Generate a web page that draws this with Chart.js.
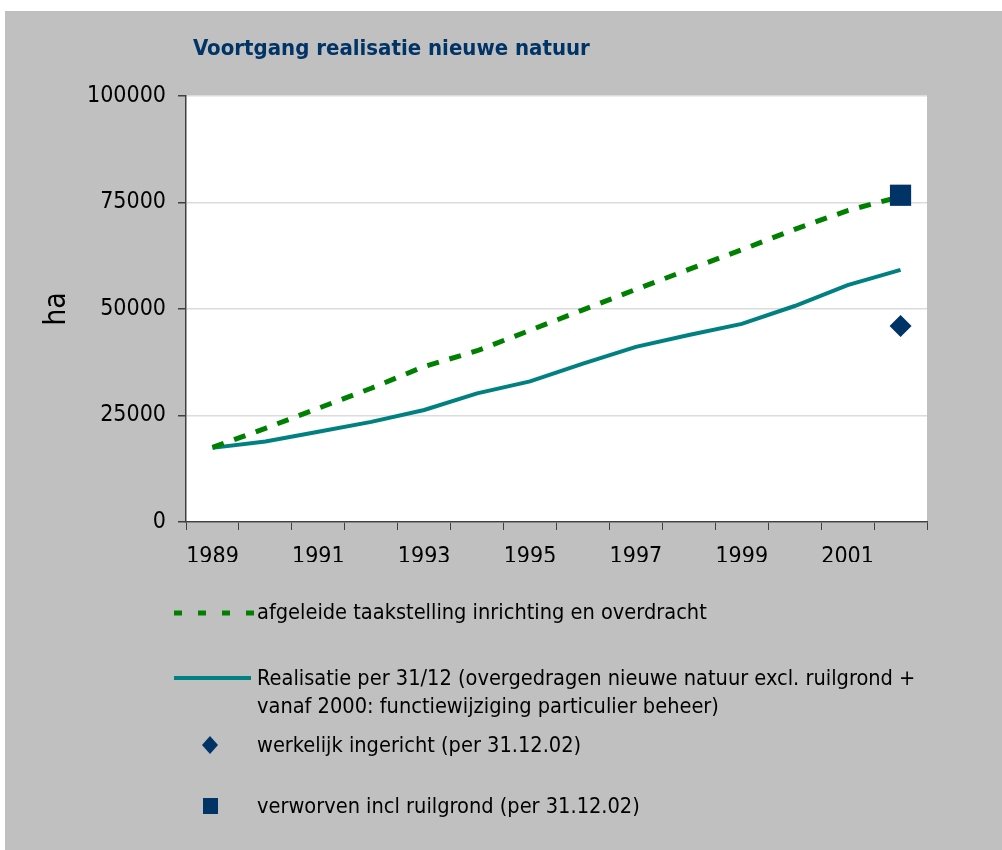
<!DOCTYPE html>
<html>
<head>
<meta charset="utf-8">
<script src="https://cdn.jsdelivr.net/npm/chart.js@4"></script>
<style>
    body { margin: 0; background: #fff; width: 1002px; height: 850px; overflow: hidden; position: relative; }
    #panel { position: absolute; left: 5px; top: 11px; width: 997px; height: 839px; background: #c0c0c0; }
    #myChart { position: absolute; left: 0; top: 0; }
    #titel { position: absolute; left: 188px; top: 24px; font: bold 22px "DejaVu Sans Condensed", "Liberation Sans Narrow", "DejaVu Sans", sans-serif; color: #003366; }
    .leg { position: absolute; left: 252px; font: 21.6px "DejaVu Sans Condensed", "Liberation Sans Narrow", "DejaVu Sans", sans-serif; color: #000; line-height: 28px; }
    .sym { position: absolute; }
</style>
</head>
<body>
<div id="panel">
    <canvas id="myChart" width="997" height="839"></canvas>
    <div id="titel">Voortgang realisatie nieuwe natuur</div>

    <svg class="sym" style="left:165px; top:597px" width="90" height="10">
        <line x1="4" y1="5" x2="88" y2="5" stroke="#008000" stroke-width="5" stroke-dasharray="8 16"/>
    </svg>
    <div class="leg" style="top:587px">afgeleide taakstelling inrichting en overdracht</div>

    <svg class="sym" style="left:165px; top:662px" width="90" height="10">
        <line x1="4" y1="5" x2="81" y2="5" stroke="#008080" stroke-width="4"/>
    </svg>
    <div class="leg" style="top:653px">Realisatie per 31/12 (overgedragen nieuwe natuur excl. ruilgrond +<br>vanaf 2000: functiewijziging particulier beheer)</div>

    <svg class="sym" style="left:195px; top:724px" width="20" height="20">
        <polygon points="10,1 18,10 10,19 2,10" fill="#003366"/>
    </svg>
    <div class="leg" style="top:720px">werkelijk ingericht (per 31.12.02)</div>

    <svg class="sym" style="left:195px; top:785px" width="20" height="20">
        <rect x="3" y="2" width="15" height="16" fill="#003366"/>
    </svg>
    <div class="leg" style="top:781px">verworven incl ruilgrond (per 31.12.02)</div>
</div>

<script>
// jaren (categorieen)
var jaren = ['1989', '1990', '1991', '1992', '1993', '1994', '1995', '1996', '1997', '1998', '1999', '2000', '2001', '2002'];

// afgeleide taakstelling inrichting en overdracht (ha)
var taakstelling = [17500, 22000, 26700, 31400, 36500, 40200, 45000, 49800, 54600, 59300, 63900, 68700, 73100, 76400];

// realisatie per 31/12 (ha)
var realisatie = [17400, 18900, 21200, 23500, 26300, 30200, 33000, 37200, 41100, 43900, 46500, 50700, 55600, 59200];

// losse punten per 31.12.02
var ingericht = [null, null, null, null, null, null, null, null, null, null, null, null, null, 46000];
var verworven = [null, null, null, null, null, null, null, null, null, null, null, null, null, 76700];

var yTicks = [0, 25000, 50000, 75000, 100000];

var fontFam = '"DejaVu Sans Condensed", "Liberation Sans Narrow", "DejaVu Sans", sans-serif';

// witte achtergrond voor het plotvlak
var plotBg = {
    id: 'plotBg',
    beforeDraw: function(chart) {
        var a = chart.chartArea;
        var ctx = chart.ctx;
        ctx.save();
        ctx.fillStyle = '#ffffff';
        ctx.fillRect(a.left, a.top, a.right - a.left, a.bottom - a.top);
        ctx.restore();
    }
};

var ctx = document.getElementById('myChart').getContext('2d');
var chart = new Chart(ctx, {
    type: 'line',
    data: {
        labels: jaren,
        datasets: [{
            label: 'verworven incl ruilgrond (per 31.12.02)',
            data: verworven,
            showLine: false,
            pointStyle: 'rect',
            pointRadius: 15,
            pointBackgroundColor: '#003366',
            pointBorderColor: '#003366',
            borderWidth: 0,
            order: 0
        }, {
            label: 'werkelijk ingericht (per 31.12.02)',
            data: ingericht,
            showLine: false,
            pointStyle: 'rectRot',
            pointRadius: 11,
            pointBackgroundColor: '#003366',
            pointBorderColor: '#003366',
            borderWidth: 0,
            order: 0
        }, {
            label: 'afgeleide taakstelling inrichting en overdracht',
            data: taakstelling,
            borderColor: '#008000',
            borderWidth: 5,
            borderDash: [12, 11],
            pointRadius: 0,
            tension: 0,
            order: 1
        }, {
            label: 'Realisatie per 31/12',
            data: realisatie,
            borderColor: '#008080',
            borderWidth: 4,
            pointRadius: 0,
            tension: 0,
            order: 2
        }]
    },
    options: {
        responsive: false,
        animation: false,
        layout: { padding: { left: 0, right: 75, top: 85, bottom: 288 } },
        plugins: {
            legend: { display: false },
            tooltip: { enabled: false }
        },
        scales: {
            x: {
                offset: true,
                grid: { offset: true, drawOnChartArea: false, drawTicks: true, tickLength: 8, tickColor: '#404040' },
                border: { color: '#404040', width: 1.5 },
                ticks: {
                    autoSkip: false,
                    maxRotation: 0,
                    padding: 13,
                    color: '#000',
                    font: { family: fontFam, size: 23 },
                    callback: function(v, i) { return i % 2 === 0 ? jaren[i] : ''; }
                },
                afterFit: function(s) { s.height = 40; }
            },
            y: {
                min: 0,
                max: 100000,
                afterBuildTicks: function(s) { s.ticks = yTicks.map(function(v) { return { value: v }; }); },
                grid: { color: '#dcdcdc', lineWidth: 1.5, tickLength: 8, tickColor: '#404040' },
                border: { color: '#404040', width: 1.5 },
                ticks: {
                    padding: 12,
                    color: '#000',
                    font: { family: fontFam, size: 23 },
                    callback: function(v) { return String(v); }
                },
                title: {
                    display: true,
                    text: 'ha',
                    color: '#000',
                    font: { family: fontFam, size: 30 },
                    padding: { top: 34, bottom: 0 }
                },
                afterFit: function(s) { s.width = 181; }
            }
        }
    },
    plugins: [plotBg]
});
</script>
</body>
</html>
